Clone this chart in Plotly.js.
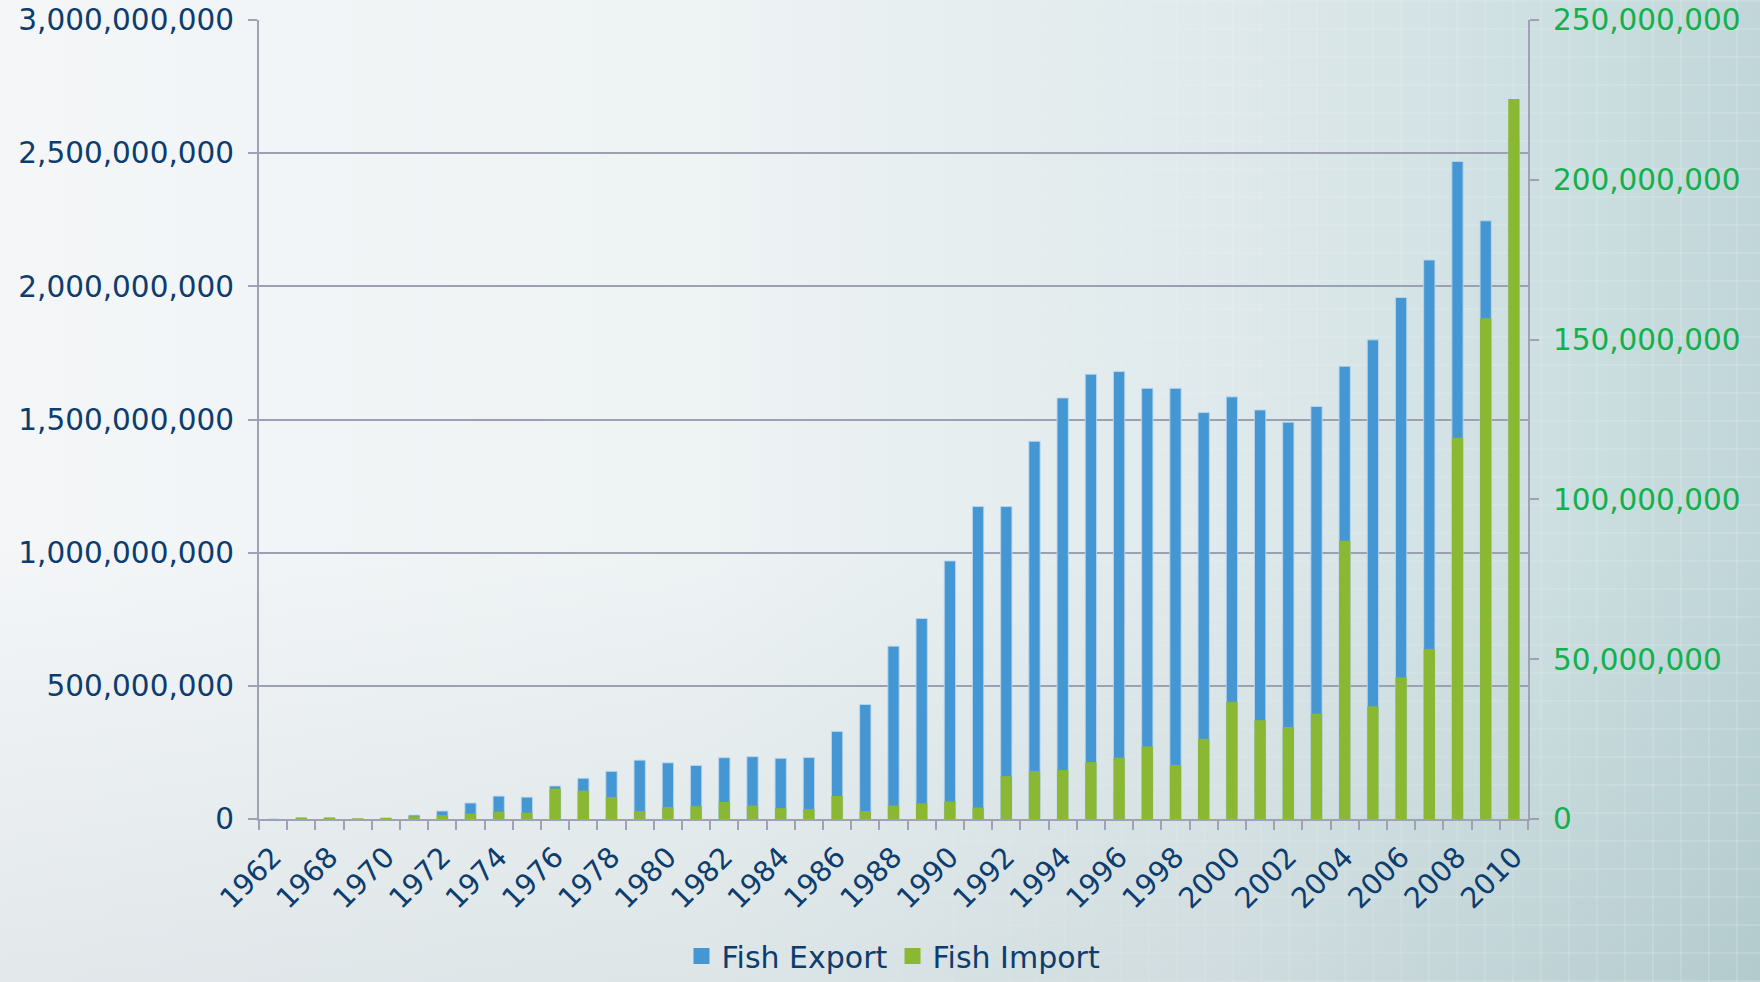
<!DOCTYPE html>
<html>
<head>
<meta charset="utf-8">
<script src="https://cdn.plot.ly/plotly-3.0.1.min.js"></script>
<style>
  html, body { margin: 0; padding: 0; }
  body {
    width: 1760px; height: 982px; overflow: hidden; position: relative;
    background:
      linear-gradient(to bottom, rgba(0,0,0,0) 55%, rgba(50,90,100,0.09) 100%),
      linear-gradient(to right, #f4f6f8 0%, #eef3f4 40%, #dfe9eb 70%, #cddfe1 88%, #c0d6d8 100%);
  }
  #grid {
    position: absolute; left: 0; top: 0; width: 1760px; height: 982px;
    background:
      repeating-linear-gradient(90deg, rgba(255,255,255,0.14) 0 2px, transparent 2px 28px),
      repeating-linear-gradient(0deg, rgba(255,255,255,0.14) 0 2px, transparent 2px 28px);
    -webkit-mask-image: linear-gradient(to right, transparent 35%, black 100%);
    mask-image: linear-gradient(to right, transparent 35%, black 100%);
  }
  #chart { position: absolute; left: 0; top: 0; width: 1760px; height: 982px; }
</style>
</head>
<body>
<div id="grid"></div>
<div id="chart"></div>
<script>
// Categories (years)
const years = ['1962','1967','1968','1969','1970','1971','1972','1973','1974','1975',
  '1976','1977','1978','1979','1980','1981','1982','1983','1984','1985',
  '1986','1987','1988','1989','1990','1991','1992','1993','1994','1995',
  '1996','1997','1998','1999','2000','2001','2002','2003','2004','2005',
  '2006','2007','2008','2009','2010'];

// Fish Export (left axis), in millions
const exportM = [0, 2, 2, 1, 2, 15, 30, 60, 86, 82,
  124, 153, 179, 221, 211, 201, 230, 234, 228, 231,
  329, 430, 649, 753, 969, 1173, 1173, 1418, 1581, 1670,
  1680, 1617, 1617, 1526, 1585, 1536, 1490, 1549, 1700, 1799,
  1958, 2099, 2469, 2246, 2555];

// Fish Import (right axis), in millions
const importM = [0, 0.5, 0.5, 0.2, 0.4, 0.85, 1.2, 1.7, 2.3, 2.0,
  9.5, 8.85, 6.9, 2.5, 3.75, 4.0, 5.3, 4.2, 3.4, 3.1,
  7.2, 2.5, 4.2, 4.9, 5.5, 3.6, 13.4, 15.0, 15.3, 17.8,
  19.2, 22.7, 16.9, 25.1, 36.7, 30.9, 28.75, 32.9, 87.1, 35.3,
  44.3, 53.2, 119.3, 156.7, 225.3];

// Series names
const seriesNames = ['Fish Export', 'Fish Import'];

// Tick labels shown on every other category
const tickLabels = years.map((y, i) => (i % 2 === 0 ? y : ''));

const navy = '#0d3d6e';
const green = '#12b04e';
const blueBar = '#4597d3';
const greenBar = '#8ab833';
const axisGray = '#9fa2b4';
const font = '"DejaVu Sans", Verdana, sans-serif';

const traces = [
  {
    type: 'bar', name: seriesNames[0], x: years,
    y: exportM.map(v => v * 1e6),
    yaxis: 'y', width: 0.4, showlegend: false,
    marker: { color: blueBar, line: { color: 'rgba(185,215,238,0.9)', width: 1 } }
  },
  {
    type: 'bar', name: seriesNames[1], x: years,
    y: importM.map(v => v * 1e6),
    yaxis: 'y2', width: 0.4, showlegend: false,
    marker: { color: greenBar }
  },
  // legend entries with larger square swatches
  {
    type: 'scatter', mode: 'markers', name: seriesNames[0], x: [null], y: [null],
    marker: { symbol: 'square', size: 16, color: blueBar }, hoverinfo: 'skip'
  },
  {
    type: 'scatter', mode: 'markers', name: seriesNames[1], x: [null], y: [null],
    marker: { symbol: 'square', size: 16, color: greenBar }, hoverinfo: 'skip'
  }
];

const layout = {
  width: 1760, height: 982,
  margin: { l: 259, r: 232, t: 20, b: 163, autoexpand: false },
  paper_bgcolor: 'rgba(0,0,0,0)',
  plot_bgcolor: 'rgba(0,0,0,0)',
  barmode: 'overlay',
  showlegend: true,
  font: { family: font, color: navy },
  xaxis: {
    type: 'category',
    categoryorder: 'array', categoryarray: years,
    range: [-0.5, years.length - 0.5],
    tickmode: 'array', tickvals: years, ticktext: tickLabels,
    tickangle: -45,
    tickson: 'boundaries',
    ticks: 'outside', ticklen: 9, tickwidth: 2, tickcolor: axisGray,
    showline: true, linecolor: axisGray, linewidth: 2,
    showgrid: false, automargin: false,
    ticklabelstandoff: 8,
    tickfont: { family: font, size: 28.5, color: navy },
    fixedrange: true
  },
  yaxis: {
    range: [0, 3e9], tickmode: 'linear', tick0: 0, dtick: 5e8,
    tickformat: ',d',
    showline: true, linecolor: axisGray, linewidth: 2,
    ticks: 'outside', ticklen: 9, tickwidth: 2, tickcolor: axisGray,
    showgrid: true, gridcolor: '#9ca0b2', gridwidth: 2,
    zeroline: false, automargin: false,
    ticklabelstandoff: 8,
    tickfont: { family: font, size: 29.5, color: navy },
    fixedrange: true
  },
  yaxis2: {
    overlaying: 'y', side: 'right',
    range: [0, 250e6], tickmode: 'linear', tick0: 0, dtick: 5e7,
    tickformat: ',d',
    showline: true, linecolor: axisGray, linewidth: 2,
    ticks: 'outside', ticklen: 9, tickwidth: 2, tickcolor: axisGray,
    showgrid: false, zeroline: false, automargin: false,
    ticklabelstandoff: 8,
    tickfont: { family: font, size: 29.5, color: green },
    fixedrange: true
  },
  legend: {
    orientation: 'h',
    xref: 'paper', x: 0.5, xanchor: 'center',
    yref: 'container', y: 0, yanchor: 'bottom',
    font: { family: font, size: 30, color: navy },
    bgcolor: 'rgba(0,0,0,0)',
    itemclick: false, itemdoubleclick: false
  }
};

Plotly.newPlot('chart', traces, layout, { displayModeBar: false, staticPlot: true });
</script>
</body>
</html>
